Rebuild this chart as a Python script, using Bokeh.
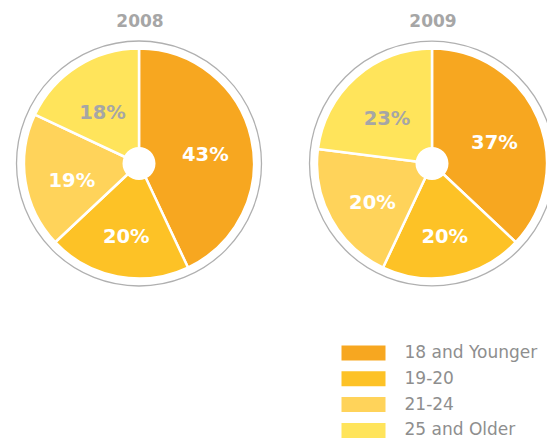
import numpy as np
from bokeh.plotting import figure
from bokeh.models import Range1d, ColumnDataSource
from bokeh.core.properties import value
from bokeh.embed import file_html
from bokeh.resources import INLINE

categories = ["18 and Younger", "19-20", "21-24", "25 and Older"]
years = ["2008", "2009"]
share_2008 = [43, 20, 19, 18]
share_2009 = [37, 20, 20, 23]
colors = ["#F7A720", "#FDC226", "#FFD35A", "#FFE45B"]
label_colors = ["#FFFFFF", "#FFFFFF", "#FFFFFF", "#A6A6A6"]

W, H = 547, 440
p = figure(width=W, height=H, x_range=Range1d(0, W), y_range=Range1d(0, H),
           output_backend="svg", toolbar_location=None, min_border=0)
p.xaxis.visible = False
p.yaxis.visible = False
p.grid.visible = False
p.outline_line_color = None
p.background_fill_color = "white"

centers = [(138.5, 163), (431.5, 163)]  # pixel coords from top
R_PIE, R_RING, R_HOLE, R_LABEL = 115, 122.5, 16.5, 68
LABEL_DROP = 6

for year, shares, (cx, cy_top) in zip(years, [share_2008, share_2009], centers):
    cy = H - cy_top
    fr = np.array(shares, dtype=float) / sum(shares)
    c1 = np.cumsum(fr)
    c0 = c1 - fr
    start = np.pi / 2 - 2 * np.pi * c0
    end = np.pi / 2 - 2 * np.pi * c1
    mid = (c0 + c1) / 2 * 2 * np.pi
    src = ColumnDataSource(dict(start=start, end=end, color=colors,
                                lx=cx + R_LABEL * np.sin(mid),
                                ly=cy + R_LABEL * np.cos(mid) - LABEL_DROP,
                                lab=[f"{s}%" for s in shares],
                                lcol=label_colors))
    p.circle(x=[cx], y=[cy], radius=R_RING, fill_color=None,
             line_color="#B0B0B0", line_width=1.3)
    p.wedge(x=cx, y=cy, radius=R_PIE, start_angle="start", end_angle="end",
            direction="clock", fill_color="color", line_color="white",
            line_width=2.5, source=src)
    p.circle(x=[cx], y=[cy], radius=R_HOLE, fill_color="white", line_color=None)
    p.text(x="lx", y="ly", text="lab", text_color="lcol", source=src,
           text_font=value("DejaVu Sans"), text_font_style="bold",
           text_font_size="19.5px", text_align="center", text_baseline="middle")
    p.text(x=[cx + 1], y=[H - 20], text=[year], text_color="#A6A6A6",
           text_font=value("DejaVu Sans"), text_font_style="bold",
           text_font_size="17px", text_align="center", text_baseline="middle")

# legend
idx = np.arange(len(categories))
ly = H - (352.5 + 25.8 * idx)
p.rect(x=363, y=ly, width=44, height=15, fill_color=colors, line_color=None)
p.text(x=404, y=ly + 1.5, text=categories, text_color="#8E8E8E",
       text_font=value("DejaVu Sans"), text_font_size="17px",
       text_align="left", text_baseline="middle")

open("out.html", "w").write(file_html(p, INLINE))
